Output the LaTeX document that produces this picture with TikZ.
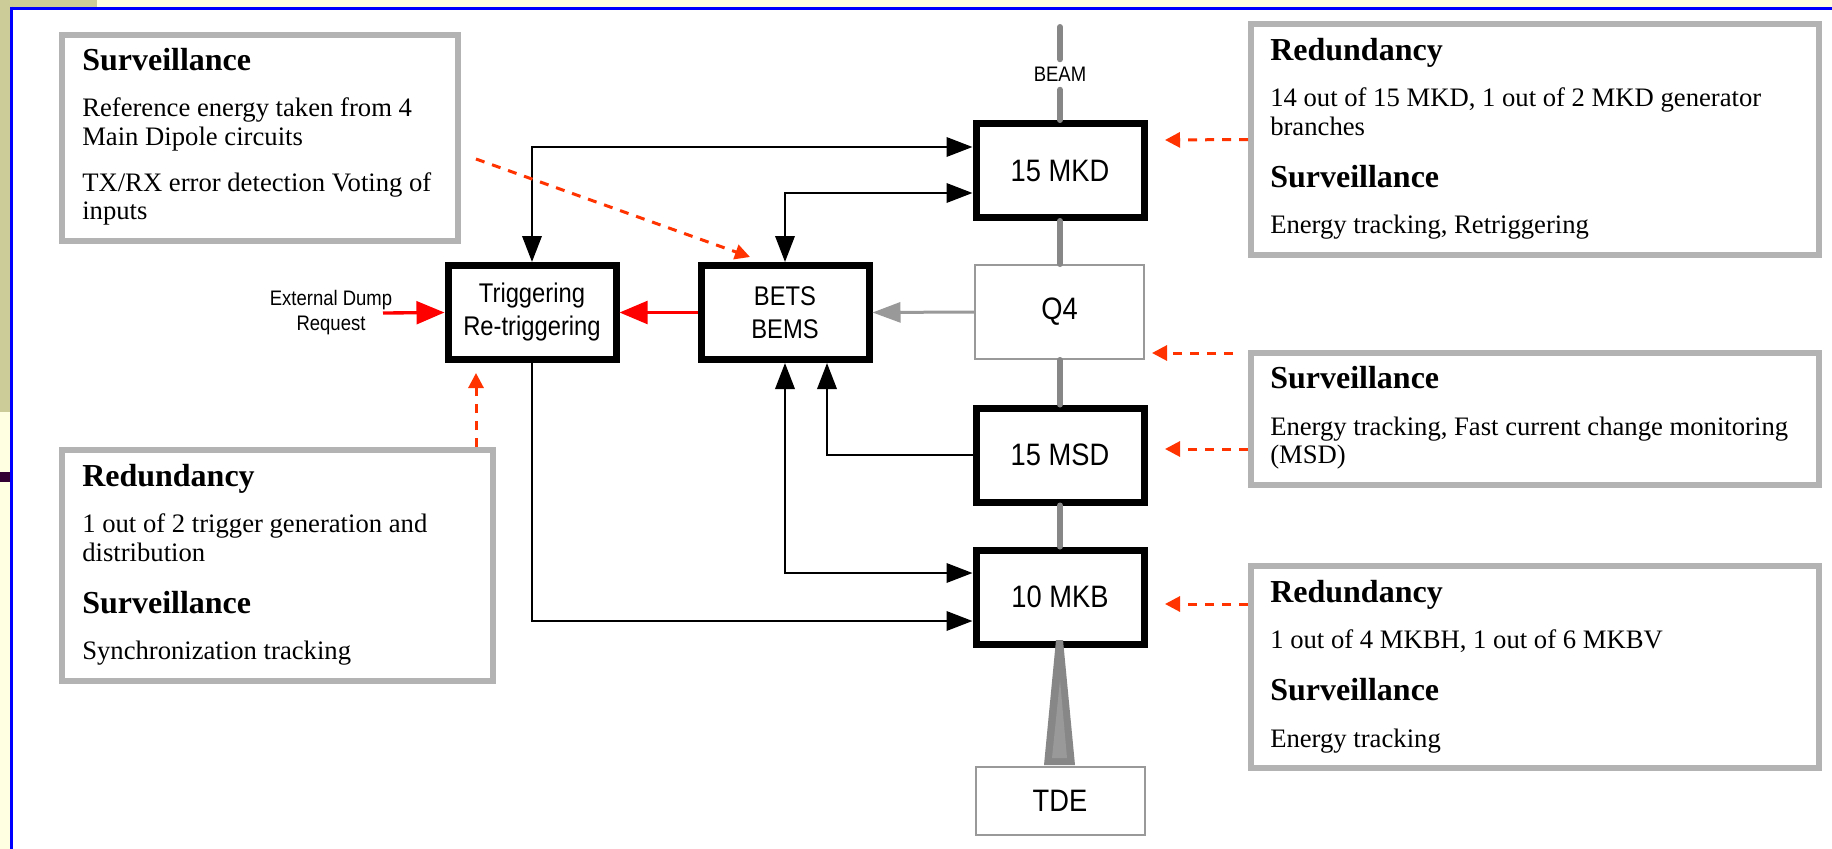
\documentclass[tikz,border=0pt]{standalone}
\usepackage{fontspec}
\setmainfont{Liberation Serif}
\newfontfamily\diafont[FakeStretch=0.88]{Liberation Sans}
\usetikzlibrary{arrows.meta}
\definecolor{boxgray}{HTML}{B3B3B3}
\definecolor{beamgray}{HTML}{878787}
\definecolor{midgray}{HTML}{999999}
\definecolor{dashred}{HTML}{FF3300}
\definecolor{paleyel}{HTML}{FFFFE1}
\definecolor{khaki}{HTML}{CCCC99}
\definecolor{plum}{HTML}{330033}
\definecolor{frameblue}{HTML}{0000FF}
\begin{document}
\begin{tikzpicture}[x=0.75pt,y=-0.75pt,
  infobox/.style={draw=boxgray, line width=4.5pt, fill=white, inner sep=0pt},
  blk/.style={draw=black, line width=5.25pt, fill=white, minimum width=126pt, minimum height=70.5pt, inner sep=0pt, align=center, font=\diafont\fontsize{23.25}{27}\selectfont},
  blksmall/.style={font=\diafont\fontsize{20.25}{24.75}\selectfont},
  thinbox/.style={draw=midgray, line width=1.5pt, fill=white, minimum width=126.75pt, minimum height=70.5pt, inner sep=0pt, font=\diafont\fontsize{23.25}{27}\selectfont},
  hd/.style={anchor=base west, inner sep=0pt, font=\bfseries\fontsize{24}{28.8}\selectfont},
  bd/.style={anchor=base west, inner sep=0pt, font=\fontsize{20}{24}\selectfont},
  conn/.style={draw=black, line width=1.875pt, >={Triangle[length=19.5pt,width=14.5pt]}},
  redarrow/.style={draw=red, line width=2.5pt, -{Triangle[length=21pt,width=17pt]}},
  grayarrow/.style={draw=midgray, line width=2.25pt, -{Triangle[length=21pt,width=15pt]}},
  dsh/.style={draw=dashred, line width=2.25pt, dash pattern=on 6.75pt off 6pt, -{Triangle[length=11.25pt,width=11.25pt]}},
  beamline/.style={draw=beamgray, line width=4.5pt, line cap=round},
  smalllbl/.style={font=\diafont\fontsize{15.75}{18.75}\selectfont, align=center}
]
\useasboundingbox (0,0) rectangle (1832,849);
% background frame
\fill[paleyel] (0,0) rectangle (1832,849);
\fill[white] (11.7,8.4) rectangle (1832,849);
\fill[khaki] (0,0) rectangle (97,7);
\fill[khaki] (0,0) rectangle (10,412);
\fill[plum] (0,472) rectangle (10,482);
\draw[frameblue, line width=2.5pt] (10,8.4) -- (1832,8.4);
\draw[frameblue, line width=2.5pt] (11.7,6.7) -- (11.7,849);

% info boxes
\node[infobox, minimum width=297pt, minimum height=154.5pt] (b1) at (260,138) {};
\node[infobox, minimum width=323.25pt, minimum height=173.25pt] (b2) at (277.5,565.5) {};
\node[infobox, minimum width=426pt, minimum height=173.25pt] (b3) at (1535,139.5) {};
\node[infobox, minimum width=426pt, minimum height=99pt] (b4) at (1535,419) {};
\node[infobox, minimum width=426pt, minimum height=151.5pt] (b5) at (1535,667) {};

\node[hd] (b1h1) at (82,71) {Surveillance};
\node[bd] (b1l1) at (82,117) {Reference energy taken from 4};
\node[bd] (b1l2) at (82,146) {Main Dipole circuits};
\node[bd] (b1l3) at (82,191) {TX/RX error detection Voting of};
\node[bd] (b1l4) at (82,219) {inputs};

\node[hd] (b2h1) at (82,486) {Redundancy};
\node[bd] (b2l1) at (82,532) {1 out of 2 trigger generation and};
\node[bd] (b2l2) at (82,561) {distribution};
\node[hd] (b2h2) at (82,613) {Surveillance};
\node[bd] (b2l3) at (82,659) {Synchronization tracking};

\node[hd] (b3h1) at (1270,61) {Redundancy};
\node[bd] (b3l1) at (1270,107) {14 out of 15 MKD, 1 out of 2 MKD generator};
\node[bd] (b3l2) at (1270,135) {branches};
\node[hd] (b3h2) at (1270,187) {Surveillance};
\node[bd] (b3l3) at (1270,233) {Energy tracking, Retriggering};

\node[hd] (b4h1) at (1270,388) {Surveillance};
\node[bd] (b4l1) at (1270,435) {Energy tracking, Fast current change monitoring};
\node[bd] (b4l2) at (1270,463) {(MSD)};

\node[hd] (b5h1) at (1270,602) {Redundancy};
\node[bd] (b5l1) at (1270,648) {1 out of 4 MKBH, 1 out of 6 MKBV};
\node[hd] (b5h2) at (1270,700) {Surveillance};
\node[bd] (b5l2) at (1270,747) {Energy tracking};

% blocks
\node[blk] (mkd) at (1060,170.5) {15 MKD};
\node[thinbox] (q4) at (1059.5,312) {Q4};
\node[blk] (msd) at (1060,455) {15 MSD};
\node[blk] (mkb) at (1060,597) {10 MKB};
\node[thinbox, minimum height=51pt] (tde) at (1060,801) {TDE};
\node[blk, blksmall] (trig) at (532,312.5) {Triggering\\Re-triggering};
\node[blk, blksmall] (bets) at (785,312.5) {BETS\\BEMS};

% beam
\node[font=\diafont\fontsize{15.75}{18}\selectfont, text height=11.25pt, text depth=0pt, inner xsep=0pt, inner ysep=5.625pt] (beam) at (1060,74.5) {BEAM};
\coordinate (beamtop) at (1060,27);
\draw[beamline] (beamtop) -- (beam.north);
\draw[beamline] (beam.south) -- (mkd.north);
\draw[beamline] (mkd.south) -- (q4.north -| mkd.south);
\draw[beamline] (q4.south -| msd.north) -- (msd.north);
\draw[beamline] (msd.south) -- (mkb.north);
\fill[beamgray] (1056,640) -- (1063,640) -- (1075,765) -- (1044,765) -- cycle;
\fill[midgray] (1060,680) -- (1067,758) -- (1052,758) -- cycle;

% black connectors
\draw[conn,<->] (trig.north) |- ([yshift=17.625pt]mkd.west);
\draw[conn,<->] (bets.north) |- ([yshift=-16.875pt]mkd.west);
\draw[conn,->] (trig.south) |- ([yshift=-18pt]mkb.west);
\draw[conn,<->] (bets.south) |- ([yshift=18pt]mkb.west);
\draw[conn,->] (msd.west) -| ([xshift=31.5pt]bets.south);

% red and gray arrows
\draw[redarrow] (bets.west) -- (trig.east);
\draw[grayarrow] (q4.west) -- (bets.east);
\node[smalllbl] (ext) at (331,312.5) {External Dump\\Request};
\coordinate (exts) at (383,313);
\draw[redarrow] (exts) -- (trig.west);

% dashed pointers
\coordinate (d1s) at (476,159);
\coordinate (d1e) at (750,257);
\draw[dsh] (d1s) -- (d1e);
\coordinate (d2e) at (476,373);
\draw[dsh] ([xshift=148.875pt]b2.north) -- (d2e);
\coordinate (d3e) at (1165,140);
\draw[dsh] (b3.west) -- (d3e);
\coordinate (d4s) at (1233,353);
\coordinate (d4e) at (1152,353);
\draw[dsh] (d4s) -- (d4e);
\coordinate (d5e) at (1165,449);
\draw[dsh] ([yshift=-22.5pt]b4.west) -- (d5e);
\coordinate (d6e) at (1165,604);
\draw[dsh] ([yshift=47.25pt]b5.west) -- (d6e);
\end{tikzpicture}
\end{document}
